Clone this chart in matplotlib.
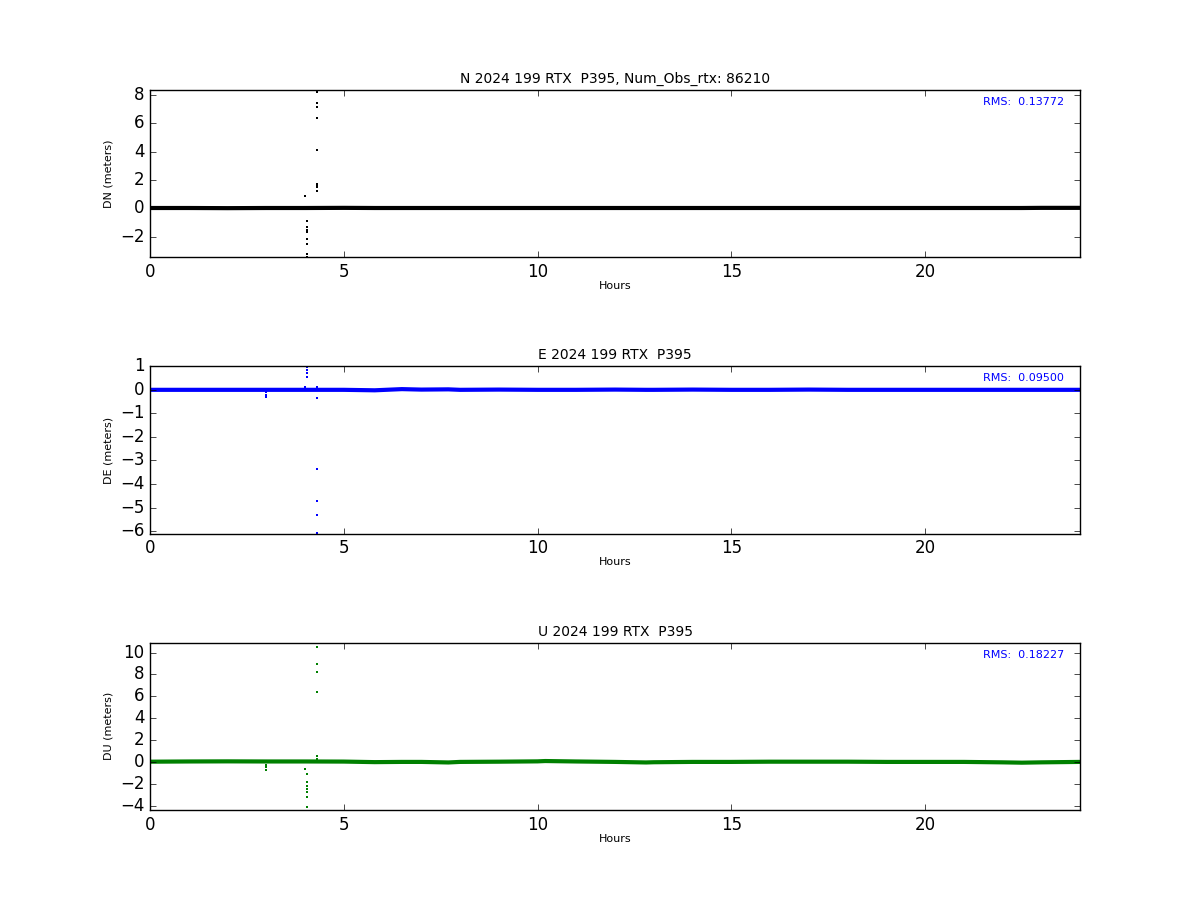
import matplotlib
matplotlib.use("Agg")
import matplotlib.pyplot as plt

plt.style.use('classic')

# Baseline (hourly-ish samples)
base_hours = [0, 1, 2, 3, 4, 5, 5.8, 6.5, 7, 7.7, 8, 9, 10, 10.2, 11, 12, 12.8, 13, 14, 15, 16, 17, 18, 19, 20, 21, 22, 22.5, 23, 24]
n_base = [0.02, 0.02, 0.01, 0.02, 0.02, 0.03, 0.02, 0.02, 0.02, 0.02, 0.02, 0.02, 0.02, 0.02, 0.02, 0.02, 0.02, 0.02, 0.02, 0.02, 0.02, 0.02, 0.02, 0.02, 0.02, 0.02, 0.02, 0.02, 0.03, 0.03]
e_base = [0.0, 0.0, 0.0, 0.0, 0.0, 0.0, -0.02, 0.03, 0.01, 0.02, 0.0, 0.01, 0.0, 0.0, 0.0, 0.01, 0.0, 0.0, 0.01, 0.0, 0.0, 0.01, 0.0, 0.0, 0.0, 0.0, 0.0, 0.0, 0.0, 0.0]
u_base = [0.02, 0.04, 0.05, 0.04, 0.04, 0.03, -0.02, 0.0, 0.0, -0.05, 0.0, 0.02, 0.05, 0.08, 0.04, 0.0, -0.05, -0.03, 0.0, 0.0, 0.02, 0.02, 0.02, 0.0, 0.0, 0.0, -0.04, -0.07, -0.04, 0.0]

# Outliers (hours, value)
n_out_h = [4.31, 4.31, 4.31, 4.31, 4.31, 4.31, 4.31, 4.31, 4.31, 4.0, 4.04, 4.04, 4.04, 4.04, 4.04, 4.04, 4.04, 4.04]
n_out_v = [8.19, 7.45, 7.17, 6.35, 4.1, 1.68, 1.58, 1.5, 1.22, 0.87, -0.92, -1.3, -1.5, -1.68, -2.15, -2.5, -3.26, -3.45]
e_out_h = [4.04, 4.04, 4.04, 4.04, 4.0, 4.31, 4.31, 4.31, 4.31, 4.31, 4.31, 2.99, 2.99, 2.99]
e_out_v = [0.97, 0.85, 0.7, 0.55, 0.14, 0.1, -0.35, -3.36, -4.72, -5.3, -6.07, -0.1, -0.2, -0.3]
u_out_h = [4.31, 4.31, 4.31, 4.31, 4.31, 4.31, 4.0, 4.04, 4.04, 4.04, 4.04, 4.04, 4.04, 4.04, 2.99, 2.99, 2.99]
u_out_v = [10.55, 8.93, 8.23, 6.37, 0.52, 0.3, -0.67, -1.13, -1.86, -2.2, -2.45, -2.75, -3.2, -4.13, -0.3, -0.5, -0.7]

titles = ["N 2024 199 RTX  P395, Num_Obs_rtx: 86210", "E 2024 199 RTX  P395", "U 2024 199 RTX  P395"]
ylabels = ["DN (meters)", "DE (meters)", "DU (meters)"]
rms = ["RMS:  0.13772", "RMS:  0.09500", "RMS:  0.18227"]
colors = ["black", "blue", "green"]
ylims = [(-3.47, 8.35), (-6.11, 1.0), (-4.40, 10.92)]
yticks = [[-2, 0, 2, 4, 6, 8], [-6, -5, -4, -3, -2, -1, 0, 1], [-4, -2, 0, 2, 4, 6, 8, 10]]

fig, axes = plt.subplots(3, 1, figsize=(12, 9), dpi=100)
fig.subplots_adjust(left=0.125, right=0.9, bottom=0.1, top=0.9, hspace=0.65)
fig.patch.set_facecolor('white')

bases = [n_base, e_base, u_base]
outs = [(n_out_h, n_out_v), (e_out_h, e_out_v), (u_out_h, u_out_v)]
for i, ax in enumerate(axes):
    c = colors[i]
    ax.plot(base_hours, bases[i], color=c, lw=3.0, solid_capstyle='butt')
    ax.plot(outs[i][0], outs[i][1], linestyle='none', marker='s', ms=2.0, mfc=c, mec=c, mew=0)
    ax.set_xlim(0, 24)
    ax.set_ylim(*ylims[i])
    ax.set_yticks(yticks[i])
    ax.set_xticks([0, 5, 10, 15, 20])
    ax.set_title(titles[i], fontsize=10)
    ax.set_ylabel(ylabels[i], fontsize=8)
    ax.set_xlabel("Hours", fontsize=8, labelpad=0)
    ax.tick_params(labelsize=12)
    ax.text(0.983, 0.928, rms[i], transform=ax.transAxes, ha='right', va='center', color='blue', fontsize=8)

fig.savefig("out.png", dpi=100, facecolor='white')
